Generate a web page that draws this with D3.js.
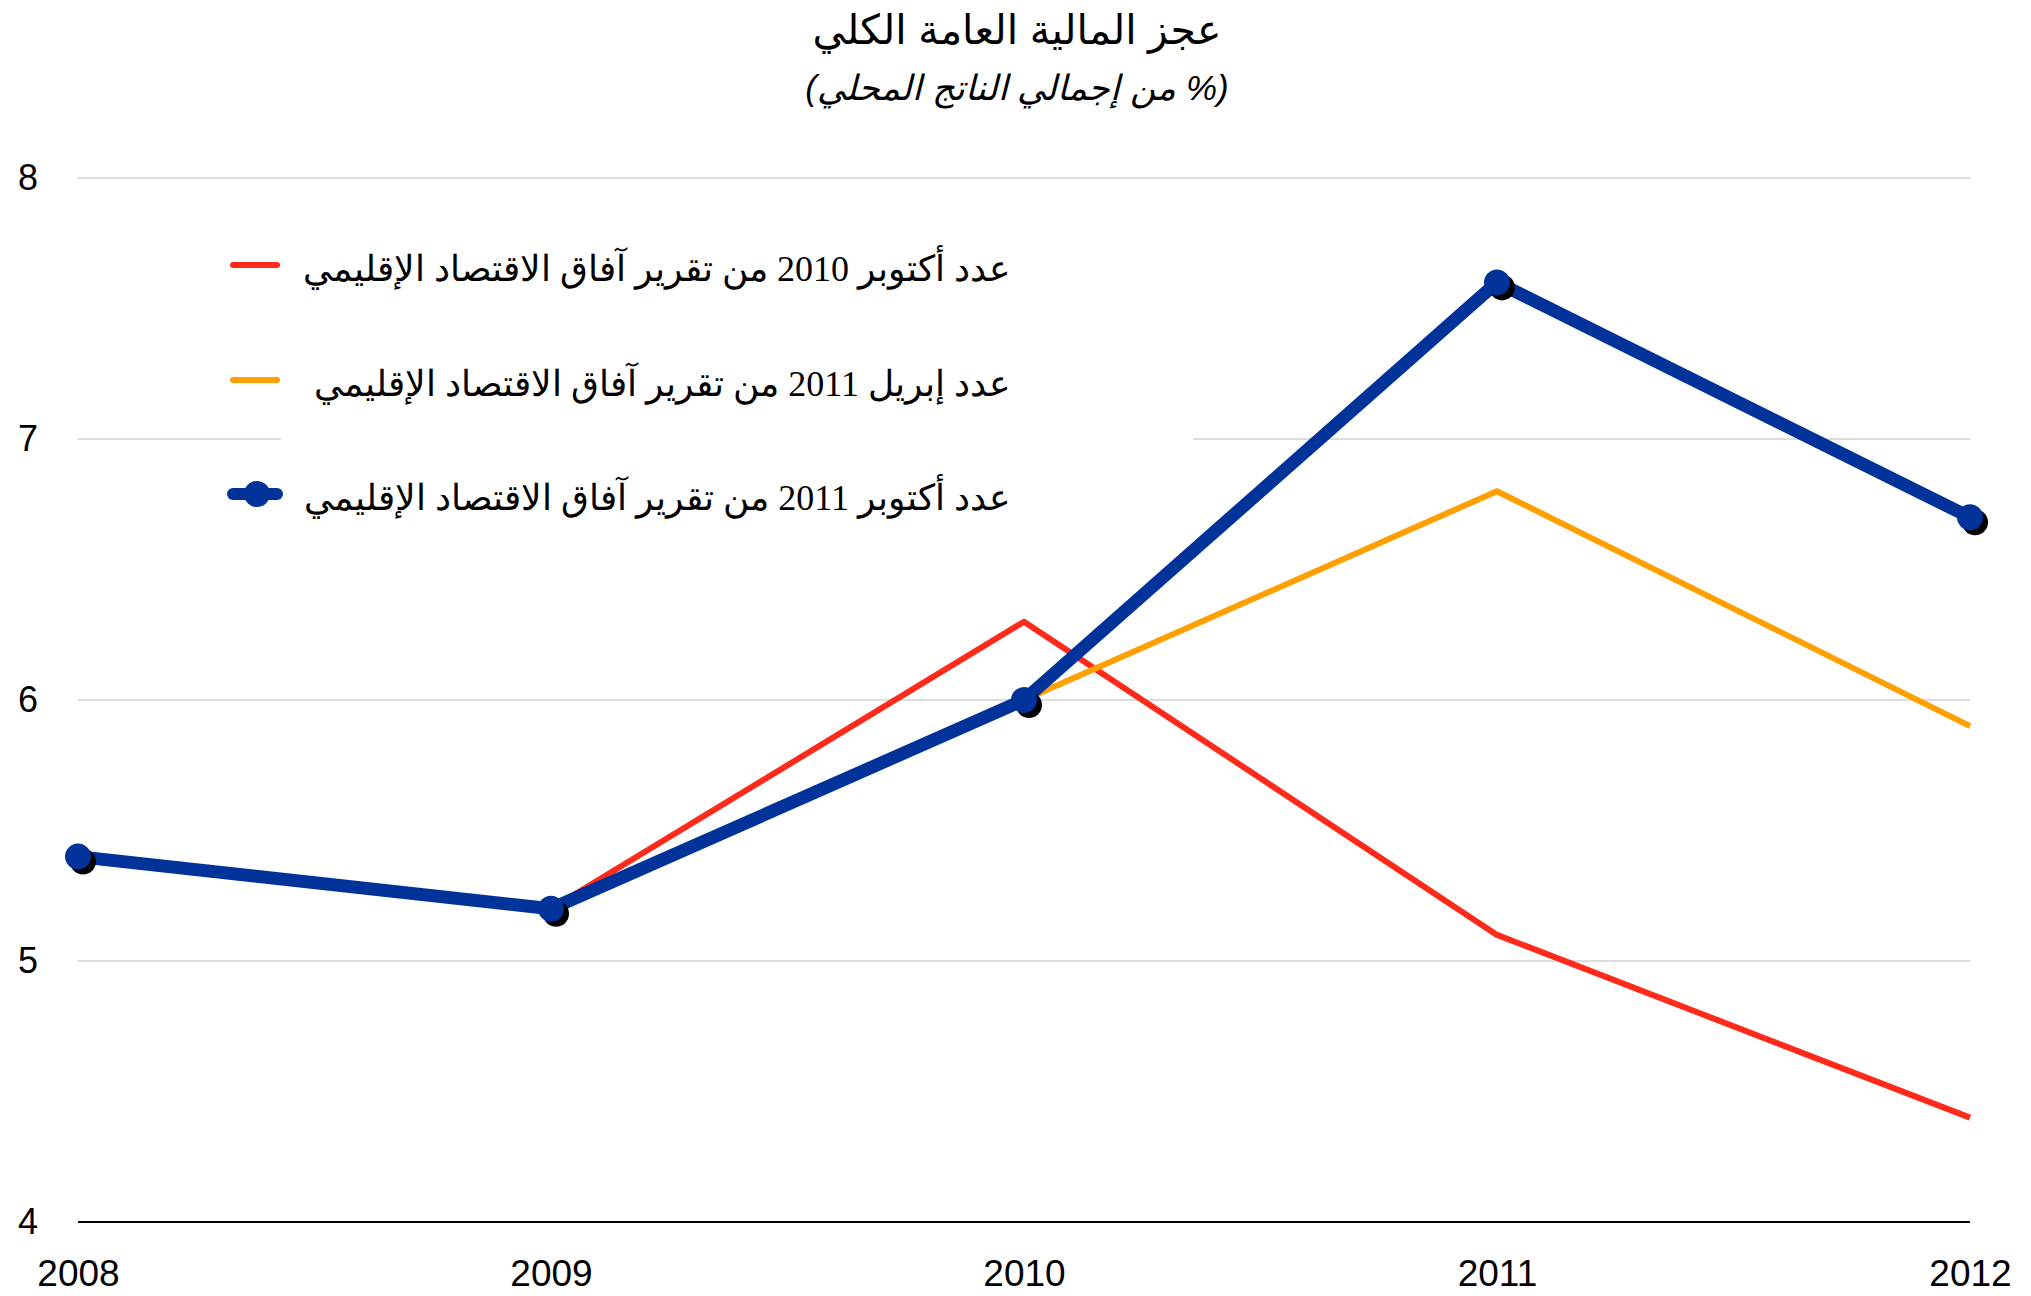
<!DOCTYPE html>
<html>
<head>
<meta charset="utf-8">
<script src="https://cdn.jsdelivr.net/npm/d3@7"></script>
<style>
  body { margin: 0; background: #fff; }
</style>
</head>
<body>
<div id="chart"></div>
<script>
const years = [2008, 2009, 2010, 2011, 2012];
const oct2010 = [5.4, 5.2, 6.3, 5.1, 4.4];
const apr2011 = [5.4, 5.2, 6.0, 6.8, 5.9];
const oct2011 = [5.4, 5.2, 6.0, 7.6, 6.7];
const yTicks = [4, 5, 6, 7, 8];
const seriesNames = [
    'عدد أكتوبر 2010 من تقرير آفاق الاقتصاد الإقليمي',
    'عدد إبريل 2011 من تقرير آفاق الاقتصاد الإقليمي',
    'عدد أكتوبر 2011 من تقرير آفاق الاقتصاد الإقليمي'
];
const title = 'عجز المالية العامة الكلي';
const subtitle = '(% من إجمالي الناتج المحلي)';

const width = 2031;
const height = 1296;
const margin = { top: 178, bottom: 76, left: 78, right: 61 };

const svg = d3.select('#chart')
    .append('svg')
    .attr('width', width)
    .attr('height', height)
    .attr('viewBox', [0, 0, width, height]);

const x = d3.scalePoint()
    .domain(years)
    .range([margin.left, width - margin.right]);

const y = d3.scaleLinear()
    .domain([4, 8])
    .range([height - margin.bottom + 2, margin.top]);

// gridlines
svg.append('g')
    .selectAll('line')
    .data(yTicks.filter(d => d > 4))
    .join('line')
    .attr('x1', margin.left)
    .attr('x2', width - margin.right)
    .attr('y1', d => y(d))
    .attr('y2', d => y(d))
    .attr('stroke', '#d0d0d0')
    .attr('stroke-width', 1.5);

// baseline
svg.append('line')
    .attr('x1', margin.left)
    .attr('x2', width - margin.right)
    .attr('y1', y(4))
    .attr('y2', y(4))
    .attr('stroke', '#000')
    .attr('stroke-width', 2);

function yAxis(g) {
    g.attr('transform', `translate(28,0)`)
        .call(d3.axisLeft(y).tickValues(yTicks).tickFormat(d3.format('d')).tickSize(0).tickPadding(0))
        .call(g => g.select('.domain').remove())
        .attr('font-family', 'Liberation Sans, Arial, sans-serif')
        .attr('font-size', '36px')
        .selectAll('text')
        .attr('text-anchor', 'middle')
        .attr('fill', '#000');
}

function xAxis(g) {
    g.attr('transform', `translate(0,${y(4)})`)
        .call(d3.axisBottom(x).tickFormat(d => d).tickSize(0).tickPadding(38))
        .call(g => g.select('.domain').remove())
        .attr('font-family', 'Liberation Sans, Arial, sans-serif')
        .attr('font-size', '37px')
        .selectAll('text')
        .attr('fill', '#000');
}

svg.append('g').call(xAxis);
svg.append('g').call(yAxis);

const line = d3.line()
    .x((d, i) => x(years[i]))
    .y(d => y(d));

// legend backdrop
svg.append('rect')
    .attr('x', 281)
    .attr('y', 235)
    .attr('width', 912)
    .attr('height', 300)
    .attr('fill', '#fff');

svg.append('path')
    .datum(oct2010)
    .attr('d', line)
    .attr('fill', 'none')
    .attr('stroke', '#ff2a1a')
    .attr('stroke-width', 6)
    .attr('stroke-linejoin', 'round');

svg.append('path')
    .datum(apr2011)
    .attr('d', line)
    .attr('fill', 'none')
    .attr('stroke', '#ff9f00')
    .attr('stroke-width', 6)
    .attr('stroke-linejoin', 'round');

svg.append('path')
    .datum(oct2011)
    .attr('d', line)
    .attr('fill', 'none')
    .attr('stroke', '#003399')
    .attr('stroke-width', 13)
    .attr('stroke-linejoin', 'round');

svg.append('g')
    .selectAll('circle')
    .data(oct2011)
    .join('circle')
    .attr('cx', (d, i) => x(years[i]) + 5)
    .attr('cy', d => y(d) + 5)
    .attr('r', 13)
    .attr('fill', '#000');

svg.append('g')
    .selectAll('circle')
    .data(oct2011)
    .join('circle')
    .attr('cx', (d, i) => x(years[i]))
    .attr('cy', d => y(d))
    .attr('r', 13)
    .attr('fill', '#003399');

// legend
const legendColors = ['#ff2a1a', '#ff9f00', '#003399'];
const legendY = [265, 380, 494];
const legend = svg.append('g');
seriesNames.forEach((name, i) => {
    const g = legend.append('g').attr('transform', `translate(0,${legendY[i]})`);
    g.append('line')
        .attr('x1', 233).attr('x2', 277)
        .attr('stroke', legendColors[i])
        .attr('stroke-width', i === 2 ? 12 : 6)
        .attr('stroke-linecap', 'round');
    if (i === 2) {
        g.append('circle').attr('cx', 257).attr('r', 13).attr('fill', legendColors[i]);
    }
    g.append('text')
        .attr('x', 1010)
        .attr('y', 16)
        .attr('text-anchor', 'start')
        .attr('direction', 'rtl')
        .attr('font-family', 'Liberation Serif, Times New Roman, DejaVu Serif, serif')
        .attr('font-size', '36px')
        .attr('fill', '#000')
        .text(name);
});

// titles
svg.append('text')
    .attr('x', 1017)
    .attr('y', 44)
    .attr('text-anchor', 'middle')
    .attr('direction', 'rtl')
    .attr('font-family', 'Liberation Sans, Arial, DejaVu Sans, sans-serif')
    .attr('font-size', '41px')
    .attr('fill', '#000')
    .text(title);

svg.append('text')
    .attr('x', 1017)
    .attr('y', 100)
    .attr('text-anchor', 'middle')
    .attr('direction', 'rtl')
    .attr('font-family', 'Liberation Sans, Arial, DejaVu Sans, sans-serif')
    .attr('font-style', 'italic')
    .attr('font-size', '35px')
    .attr('fill', '#000')
    .text(subtitle);

svg.node();
</script>
</body>
</html>
